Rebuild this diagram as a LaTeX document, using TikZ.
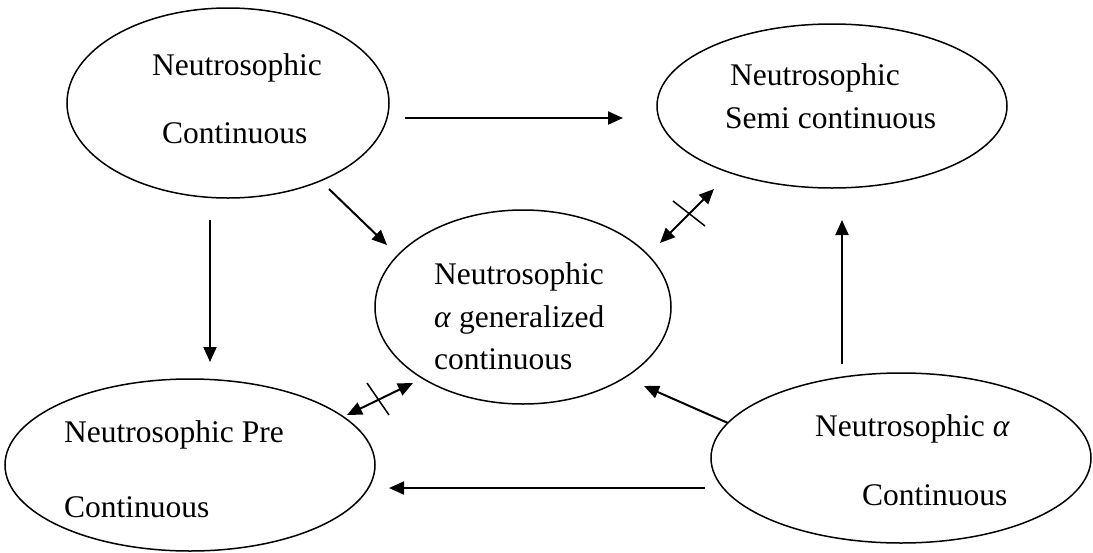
\documentclass[tikz,border=0pt]{standalone}
\usepackage{fontspec}
\setmainfont{Liberation Serif}
\usetikzlibrary{arrows.meta,shapes.geometric}
\begin{document}
\begin{tikzpicture}[x=1pt,y=-1pt,
  oval/.style={draw,line width=1.5pt,ellipse,inner sep=0pt},
  lbl/.style={anchor=base west,inner sep=0pt,font=\fontsize{31.5}{36}\selectfont},
  conn/.style={line width=2pt,-{Triangle[length=15pt,width=13pt]}},
  both/.style={line width=2pt,{Triangle[length=15pt,width=13pt]}-{Triangle[length=15pt,width=13pt]}},
  crossln/.style={line width=1.5pt}]
\useasboundingbox (0,0) rectangle (1093,552);
% ellipses
\node[oval,minimum width=322pt,minimum height=190pt] (cont) at (228,103) {};
\node[oval,minimum width=350pt,minimum height=164pt] (semi) at (832,106) {};
\node[oval,minimum width=296pt,minimum height=194pt] (gen) at (523,307) {};
\node[oval,minimum width=370pt,minimum height=172pt] (pre) at (190,465) {};
\node[oval,minimum width=380pt,minimum height=170pt] (alpha) at (901,458) {};
% labels
\node[lbl] (t1a) at (152,75) {Neutrosophic};
\node[lbl] (t1b) at (162,143) {Continuous};
\node[lbl] (t2a) at (730,85) {Neutrosophic};
\node[lbl] (t2b) at (725,128) {Semi continuous};
\node[lbl] (t3a) at (434,284) {Neutrosophic};
\node[lbl] (t3b) at (434,327) {\textit{α} generalized};
\node[lbl] (t3c) at (434,369) {continuous};
\node[lbl] (t4a) at (64,442) {Neutrosophic Pre};
\node[lbl] (t4b) at (64,517) {Continuous};
\node[lbl] (t5a) at (815,436) {Neutrosophic \textit{α}};
\node[lbl] (t5b) at (862,505) {Continuous};
% connector end points
\coordinate (a1s) at (405,118); \coordinate (a1e) at (623,118);
\coordinate (a2s) at (329,189); \coordinate (a2e) at (387,245);
\coordinate (a3s) at (210,220); \coordinate (a3e) at (210,362);
\coordinate (a4s) at (660,243); \coordinate (a4e) at (714,189);
\coordinate (c4s) at (673,201); \coordinate (c4e) at (705,226);
\coordinate (a5s) at (347,415); \coordinate (a5e) at (413,383);
\coordinate (c5s) at (367,383); \coordinate (c5e) at (389,415);
\coordinate (a6s) at (728,423); \coordinate (a6e) at (644,386);
\coordinate (a7s) at (842,364); \coordinate (a7e) at (842,220);
\coordinate (a8s) at (705,488); \coordinate (a8e) at (389,488);
% connectors
\draw[conn] (a1s) -- (a1e);
\draw[conn] (a2s) -- (a2e);
\draw[conn] (a3s) -- (a3e);
\draw[both] (a4s) -- (a4e);
\draw[crossln] (c4s) -- (c4e);
\draw[both] (a5s) -- (a5e);
\draw[crossln] (c5s) -- (c5e);
\draw[conn] (a6s) -- (a6e);
\draw[conn] (a7s) -- (a7e);
\draw[conn] (a8s) -- (a8e);
\end{tikzpicture}
\end{document}
